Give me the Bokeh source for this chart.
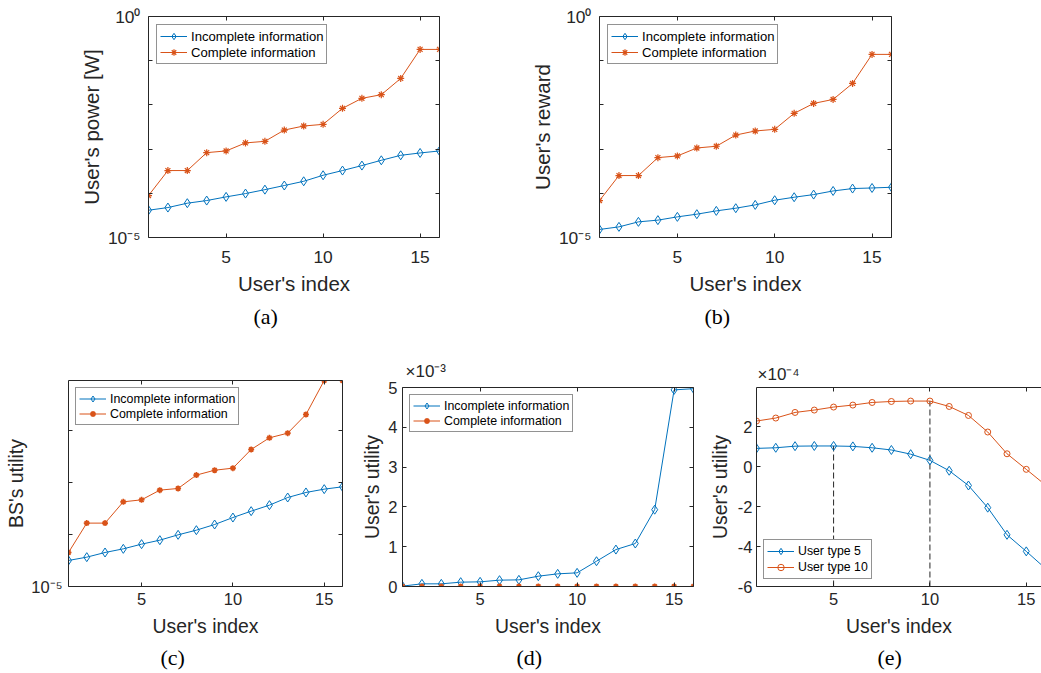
from bokeh.plotting import figure
from bokeh.layouts import row, column
from bokeh.models import Range1d, FixedTicker, LinearAxis, LogAxis, Title, CustomJSTickFormatter
from bokeh.embed import file_html
from bokeh.resources import INLINE

# ---------------- data ----------------
users = list(range(1, 17))

# (a) user's power [W]
a_incomplete = [4.14e-5, 4.76e-5, 5.97e-5, 6.85e-5, 8.30e-5, 9.86e-5, 1.21e-4, 1.50e-4,
                1.87e-4, 2.56e-4, 3.27e-4, 4.24e-4, 5.58e-4, 7.24e-4, 8.18e-4, 9.08e-4]
a_complete = [8.89e-5, 3.27e-4, 3.27e-4, 8.32e-4, 9.08e-4, 1.38e-3, 1.50e-3, 2.70e-3,
              3.33e-3, 3.63e-3, 8.36e-3, 1.41e-2, 1.70e-2, 3.97e-2, 0.180, 0.180]

# (b) user's reward
b_incomplete = [1.52e-5, 1.74e-5, 2.26e-5, 2.47e-5, 2.93e-5, 3.37e-5, 4.00e-5, 4.60e-5,
                5.47e-5, 6.97e-5, 8.15e-5, 9.35e-5, 1.13e-4, 1.28e-4, 1.32e-4, 1.37e-4]
b_complete = [6.85e-5, 2.52e-4, 2.52e-4, 6.41e-4, 7.00e-4, 1.06e-3, 1.16e-3, 2.08e-3,
              2.57e-3, 2.80e-3, 6.44e-3, 1.08e-2, 1.33e-2, 3.06e-2, 0.139, 0.139]

# (c) BS's utility
c_incomplete = [3.18e-5, 3.68e-5, 4.53e-5, 5.33e-5, 6.56e-5, 7.83e-5, 9.93e-5, 1.22e-4,
                1.57e-4, 2.14e-4, 2.84e-4, 3.71e-4, 5.21e-4, 6.52e-4, 7.55e-4, 8.38e-4]
c_complete = [4.53e-5, 1.67e-4, 1.67e-4, 4.30e-4, 4.70e-4, 7.23e-4, 7.78e-4, 1.41e-3,
              1.75e-3, 1.92e-3, 4.40e-3, 7.38e-3, 9.08e-3, 2.08e-2, 9.42e-2, 9.42e-2]

# (d) user's utility (x 1e-3)
d_incomplete = [0.01, 0.067, 0.067, 0.109, 0.117, 0.159, 0.167, 0.259,
                0.318, 0.343, 0.635, 0.928, 1.08, 1.93, 4.94, 4.97]
d_complete = [0.0, 0.0, 0.0, 0.0, 0.0, 0.0, 0.0, 0.0,
              0.0, 0.0, 0.0, 0.0, 0.0, 0.0, 0.0, 0.0]

# (e) user's utility (x 1e-4)
e_type5 = [0.92, 0.95, 1.03, 1.04, 1.04, 1.02, 0.95, 0.84,
           0.63, 0.32, -0.20, -0.94, -2.05, -3.41, -4.24, -5.10]
e_type10 = [2.29, 2.44, 2.72, 2.84, 2.99, 3.09, 3.22, 3.27,
            3.29, 3.29, 3.02, 2.57, 1.74, 0.65, -0.13, -0.92]

x_ticks = [5, 10, 15]
log_ticks_a = [1e-5, 1e-4, 1e-3, 1e-2, 1e-1, 1.0]
log_ticks_c = [1e-5, 1e-4, 1e-3, 1e-2]
d_ticks = [0, 1, 2, 3, 4, 5]
e_ticks = [-6, -4, -2, 0, 2]

# ---------------- style ----------------
FONT = "Liberation Sans"
SERIF = "Liberation Serif"
AX = "#262626"
BLUE = "#0072BD"
RED = "#D95319"

LOG_FMT = """
const e = Math.round(Math.log10(tick));
if (e == -5) return "10\u207b\u2075";
if (e == 0) return "10\u2070";
return " ";
"""
LIN_FMT = "return String(tick);"
BLANK_FMT = "return ' ';"


def style_axis(ax, tick_fs, label_fs, tick_standoff, label_standoff):
    ax.axis_line_color = AX
    ax.axis_line_width = 1
    ax.major_tick_line_color = AX
    ax.minor_tick_line_color = None
    ax.major_tick_in = 4
    ax.major_tick_out = 0
    ax.major_label_text_font = FONT
    ax.major_label_text_font_size = tick_fs
    ax.major_label_text_color = AX
    ax.major_label_standoff = tick_standoff
    ax.axis_label_text_font = FONT
    ax.axis_label_text_font_style = "normal"
    ax.axis_label_text_font_size = label_fs
    ax.axis_label_text_color = AX
    ax.axis_label_standoff = label_standoff


def mirror_axis(cls, ticks):
    return cls(ticker=FixedTicker(ticks=ticks), formatter=CustomJSTickFormatter(code=BLANK_FMT),
               major_label_text_font_size="1px", major_label_standoff=0,
               axis_line_color=AX, major_tick_line_color=AX,
               minor_tick_line_color=None, major_tick_in=4, major_tick_out=0)


def panel(width, height, bl, br, bt, bb, x_end, y0, y1, log, yticks, yfmt,
          xlabel, ylabel, tick_fs, label_fs, right=True,
          xstand=(8, 5), ystand=(3, 7)):
    p = figure(width=width, height=height, output_backend="svg", toolbar_location=None,
               x_range=Range1d(1, x_end), y_range=Range1d(y0, y1),
               y_axis_type="log" if log else "linear",
               min_border_left=bl, min_border_right=br,
               min_border_top=bt, min_border_bottom=bb)
    p.outline_line_color = None
    p.xgrid.visible = False
    p.ygrid.visible = False
    p.background_fill_color = "white"
    p.border_fill_color = "white"
    xa = p.xaxis[0]
    ya = p.yaxis[0]
    xa.ticker = FixedTicker(ticks=x_ticks)
    ya.ticker = FixedTicker(ticks=yticks)
    xa.formatter = CustomJSTickFormatter(code=LIN_FMT)
    ya.formatter = CustomJSTickFormatter(code=yfmt)
    xa.axis_label = xlabel
    ya.axis_label = ylabel
    style_axis(xa, tick_fs, label_fs, *xstand)
    style_axis(ya, tick_fs, label_fs, *ystand)
    p.add_layout(mirror_axis(LinearAxis, x_ticks), "above")
    if right:
        p.add_layout(mirror_axis(LogAxis if log else LinearAxis, yticks), "right")
    return p


def style_legend(p, fs, loc, margin, glyph_w=27, row_h=16):
    lg = p.legend[0]
    lg.location = loc
    lg.margin = margin
    lg.padding = 3
    lg.spacing = 0
    lg.label_text_font = FONT
    lg.label_text_font_size = fs
    lg.label_text_color = "#000000"
    lg.label_standoff = 4
    lg.label_height = row_h
    lg.glyph_height = row_h
    lg.glyph_width = glyph_w
    lg.border_line_color = AX
    lg.border_line_width = 1
    lg.background_fill_color = "white"
    lg.background_fill_alpha = 1.0


def caption(p, text, offset, standoff):
    p.add_layout(Title(text=text, align="left", offset=offset, standoff=standoff,
                       text_font=SERIF, text_font_size="22px", text_font_style="normal",
                       text_color="#000000"), "below")


def multiplier(p, text, offset, standoff):
    p.add_layout(Title(text=text, align="left", offset=offset, standoff=standoff,
                       text_font=FONT, text_font_size="17px", text_font_style="normal",
                       text_color=AX), "above")


def two_series(p, yb, yr, star_size, star_lw):
    p.line(users, yb, color=BLUE, line_width=1, legend_label="Incomplete information")
    p.scatter(users, yb, marker="diamond", size=9, line_color=BLUE, fill_color=None,
              line_width=1, legend_label="Incomplete information")
    p.line(users, yr, color=RED, line_width=1, legend_label="Complete information")
    p.scatter(users, yr, marker="asterisk", size=star_size, line_color=RED, fill_color=RED,
              line_width=star_lw, legend_label="Complete information")


# ---------------- row 1 ----------------
TOP_TICK = "17.4px"
TOP_LAB = "20.5px"
fa = panel(520, 356, 148, 81, 16, 119, 16, 1e-5, 1.0, True, log_ticks_a, LOG_FMT,
           "User's index", "User's power [W]", TOP_TICK, TOP_LAB,
           xstand=(13, 6), ystand=(8, 2))
two_series(fa, a_incomplete, a_complete, 7, 1.2)
style_legend(fa, "13.1px", "top_left", 8)
caption(fa, "(a)", 105, 9)

fb = panel(521, 356, 79, 150, 16, 119, 16, 1e-5, 1.0, True, log_ticks_a, LOG_FMT,
           "User's index", "User's reward", TOP_TICK, TOP_LAB,
           xstand=(13, 6), ystand=(8, 2))
two_series(fb, b_incomplete, b_complete, 7, 1.2)
style_legend(fb, "13.1px", "top_left", 8)
caption(fb, "(b)", 105, 9)

# ---------------- row 2 ----------------
BOT_TICK = "16.5px"
BOT_LAB = "19.4px"
fc = panel(355, 317, 68, 13, 24, 87, 16, 1e-5, c_complete[-1], True, log_ticks_c, LOG_FMT,
           "User's index", "BS's utility", BOT_TICK, BOT_LAB, xstand=(6, 7), ystand=(6, 1))
two_series(fc, c_incomplete, c_complete, 6, 1.6)
style_legend(fc, "12.4px", "top_left", 7, row_h=15)
caption(fc, "(c)", 92, 6)

fd = panel(345, 317, 47, 7, 31, 87, 16, 0, 5, False, d_ticks, LIN_FMT,
           "User's index", "User's utility", BOT_TICK, BOT_LAB, xstand=(6, 7), ystand=(5, 2))
two_series(fd, d_incomplete, d_complete, 6, 1.6)
style_legend(fd, "12.4px", "top_left", 7, row_h=15)
multiplier(fd, "\u00d710\u207b\u00b3", 3, 6)
caption(fd, "(d)", 114, 6)

fe = panel(341, 317, 56, 0, 31, 87, 15.79, -6, 3.97, False, e_ticks, LIN_FMT,
           "User's index", "User's utility", BOT_TICK, BOT_LAB, right=False,
           xstand=(6, 7), ystand=(4, 4))
fe.segment(x0=[users[4]], y0=[-6], x1=[users[4]], y1=[e_type5[4]],
           line_color=AX, line_dash="6 3", line_width=1)
fe.segment(x0=[users[9]], y0=[-6], x1=[users[9]], y1=[e_type10[9]],
           line_color=AX, line_dash="6 3", line_width=1)
fe.line(users, e_type5, color=BLUE, line_width=1, legend_label="User type 5")
fe.scatter(users, e_type5, marker="diamond", size=9, line_color=BLUE, fill_color=None,
           line_width=1, legend_label="User type 5")
fe.line(users, e_type10, color=RED, line_width=1, legend_label="User type 10")
fe.scatter(users, e_type10, marker="circle", size=6, line_color=RED, fill_color=None,
           line_width=1, legend_label="User type 10")
style_legend(fe, "12.3px", "bottom_left", 7, row_h=16)
multiplier(fe, "\u00d710\u207b\u2074", 1, 0)
caption(fe, "(e)", 121, 6)

layout = column(row(fa, fb), row(column(fc), column(fd), column(fe)))

with open("out.html", "w", encoding="utf-8") as f:
    f.write(file_html(layout, INLINE))
